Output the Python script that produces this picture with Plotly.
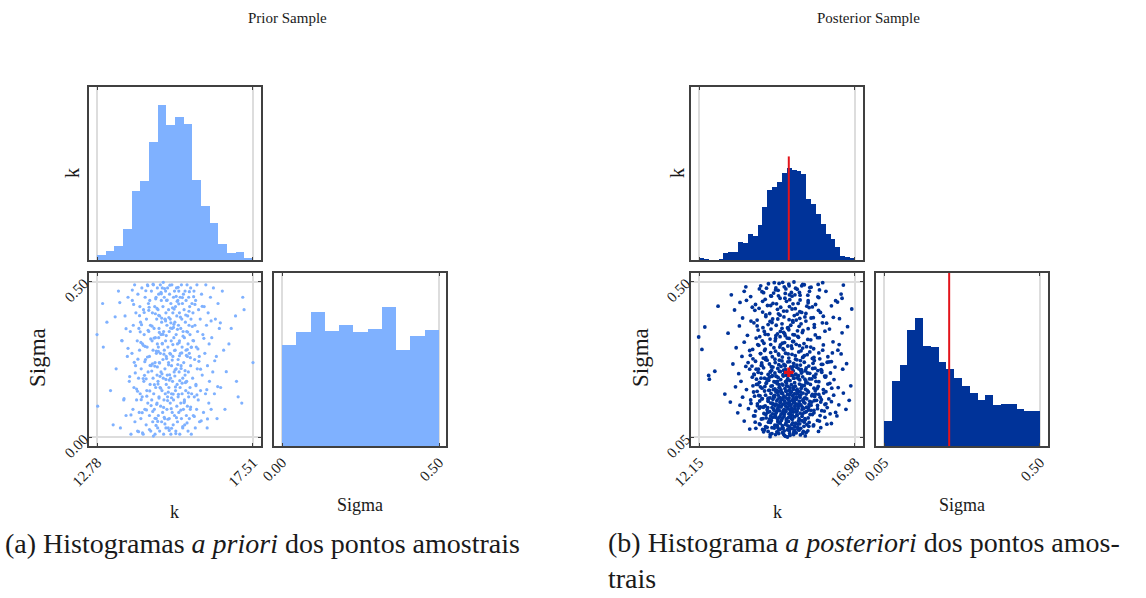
import numpy as np
import plotly.graph_objects as go

W, H = 1146, 598

# ---------------- data ----------------
PRIOR_K_RANGE = [12.78, 17.51]
PRIOR_SIGMA_RANGE = [0.00, 0.50]
POST_K_RANGE = [12.15, 16.98]
POST_SIGMA_RANGE = [0.05, 0.50]

PRIOR_K_TICKS = ["12.78", "17.51"]
PRIOR_SIGMA_TICKS = ["0.00", "0.50"]
POST_K_TICKS = ["12.15", "16.98"]
POST_SIGMA_TICKS = ["0.05", "0.50"]

PRIOR_K_COUNTS = [5, 8, 13, 28, 63, 72, 107, 141, 123, 130, 124, 73, 49, 34, 15, 6, 7, 2]
PRIOR_SIGMA_COUNTS = [79, 89, 105, 90, 95, 89, 92, 109, 75, 86, 91]
POST_K_COUNTS = [4, 1, 0, 0, 2, 24, 28, 28, 63, 60, 92, 86, 125, 187, 248, 257, 278, 308,
                 325, 319, 314, 305, 216, 198, 163, 128, 92, 74, 45, 15, 9, 5]
POST_SIGMA_COUNTS = [78, 204, 252, 361, 398, 312, 307, 263, 240, 211, 188, 164, 143, 159,
                     127, 131, 130, 114, 110, 109]

POST_K_BEST = 14.93
POST_SIGMA_BEST = 0.238
POST_K_LINE_TOP = 367

PRIOR_POINTS = [
    (12.78, 0.33), (12.80, 0.10), (12.95, 0.43), (12.97, 0.29),
    (13.19, 0.15), (13.08, 0.37), (13.27, 0.04),
    (13.36, 0.22), (13.43, 0.47), (13.49, 0.03), (13.54, 0.31),
    (13.59, 0.12), (13.63, 0.39), (13.66, 0.07), (13.70, 0.26), (13.72, 0.45), (13.76, 0.18),
    (13.79, 0.34), (13.81, 0.01),
    (13.84, 0.27), (13.85, 0.44), (13.87, 0.09), (13.88, 0.36), (13.90, 0.16), (13.92, 0.49),
    (13.93, 0.05), (13.95, 0.23), (13.96, 0.40), (13.98, 0.12), (14.00, 0.31), (14.01, 0.02),
    (14.02, 0.46), (14.04, 0.19), (14.05, 0.35), (14.06, 0.08), (14.07, 0.28), (14.08, 0.42),
    (14.09, 0.14),
    (14.10, 0.37), (14.11, 0.06), (14.12, 0.22), (14.14, 0.48), (14.15, 0.13), (14.16, 0.30),
    (14.18, 0.01), (14.19, 0.41), (14.20, 0.18), (14.21, 0.33), (14.23, 0.09), (14.24, 0.45),
    (14.25, 0.25), (14.27, 0.04), (14.28, 0.38), (14.29, 0.15), (14.30, 0.29), (14.31, 0.49),
    (14.32, 0.11), (14.33, 0.21), (14.34, 0.43), (14.35, 0.34),
    (14.37, 0.07), (14.37, 0.26), (14.38, 0.44), (14.39, 0.17), (14.40, 0.36), (14.41, 0.02),
    (14.42, 0.23), (14.43, 0.47), (14.44, 0.12), (14.45, 0.31), (14.46, 0.40), (14.47, 0.05),
    (14.48, 0.19), (14.48, 0.28), (14.49, 0.49), (14.50, 0.14), (14.51, 0.35), (14.52, 0.09),
    (14.53, 0.42), (14.54, 0.24), (14.54, 0.01), (14.55, 0.32), (14.56, 0.16), (14.57, 0.45),
    (14.58, 0.27), (14.58, 0.06), (14.59, 0.38), (14.60, 0.20), (14.60, 0.11), (14.61, 0.48),
    (14.61, 0.30), (14.62, 0.03),
    (14.63, 0.41), (14.63, 0.18), (14.64, 0.29), (14.64, 0.07), (14.65, 0.46), (14.66, 0.13),
    (14.66, 0.35), (14.67, 0.24), (14.68, 0.02), (14.68, 0.39), (14.69, 0.16), (14.70, 0.49),
    (14.70, 0.27), (14.71, 0.10), (14.72, 0.33), (14.72, 0.21), (14.73, 0.44), (14.74, 0.05),
    (14.74, 0.37), (14.75, 0.15), (14.76, 0.30), (14.76, 0.48), (14.77, 0.08), (14.78, 0.25),
    (14.78, 0.42), (14.79, 0.19), (14.80, 0.01), (14.80, 0.34), (14.81, 0.12), (14.82, 0.45),
    (14.82, 0.28), (14.83, 0.06), (14.84, 0.38), (14.84, 0.22), (14.85, 0.14), (14.86, 0.47),
    (14.86, 0.31), (14.87, 0.03), (14.87, 0.40), (14.88, 0.17), (14.88, 0.26), (14.65, 0.32),
    (14.89, 0.44), (14.90, 0.09), (14.90, 0.36), (14.91, 0.20), (14.92, 0.48), (14.92, 0.13),
    (14.93, 0.29), (14.94, 0.03), (14.95, 0.41), (14.95, 0.24), (14.96, 0.16), (14.97, 0.34),
    (14.97, 0.06), (14.98, 0.46), (14.99, 0.27), (15.00, 0.11), (15.00, 0.38), (15.01, 0.19),
    (15.02, 0.01), (15.02, 0.43), (15.03, 0.31), (15.04, 0.14), (15.04, 0.23), (15.05, 0.49),
    (15.06, 0.08), (15.06, 0.35), (15.07, 0.18), (15.08, 0.40), (15.08, 0.26), (15.09, 0.04),
    (15.10, 0.45), (15.10, 0.12), (15.11, 0.32), (15.12, 0.21), (15.13, 0.47), (15.13, 0.07),
    (15.14, 0.37),
    (15.15, 0.28), (15.16, 0.15), (15.16, 0.42), (15.17, 0.02), (15.18, 0.33), (15.18, 0.22),
    (15.19, 0.48), (15.20, 0.10), (15.20, 0.39), (15.21, 0.17), (15.22, 0.30), (15.22, 0.05),
    (15.23, 0.44), (15.24, 0.25), (15.24, 0.13), (15.25, 0.36), (15.26, 0.47), (15.26, 0.08),
    (15.27, 0.21), (15.28, 0.40), (15.28, 0.31), (15.29, 0.01), (15.30, 0.16), (15.30, 0.45),
    (15.31, 0.27), (15.32, 0.11), (15.32, 0.35), (15.33, 0.23), (15.34, 0.49), (15.34, 0.06),
    (15.35, 0.38), (15.36, 0.14), (15.36, 0.29), (15.37, 0.43), (15.38, 0.03), (15.38, 0.19),
    (15.39, 0.34), (15.40, 0.09), (15.40, 0.46),
    (15.41, 0.24), (15.42, 0.41), (15.43, 0.12), (15.43, 0.32), (15.44, 0.04), (15.45, 0.47),
    (15.45, 0.20), (15.46, 0.37), (15.47, 0.15), (15.48, 0.28), (15.48, 0.44), (15.49, 0.07),
    (15.50, 0.34), (15.50, 0.18), (15.51, 0.49), (15.52, 0.26), (15.52, 0.10), (15.53, 0.39),
    (15.54, 0.02), (15.54, 0.30), (15.55, 0.21), (15.56, 0.45), (15.56, 0.13), (15.57, 0.36),
    (15.58, 0.06), (15.58, 0.27), (15.59, 0.42), (15.60, 0.16), (15.60, 0.33), (15.61, 0.09),
    (15.62, 0.48), (15.62, 0.23), (15.63, 0.38), (15.64, 0.01), (15.64, 0.29), (15.65, 0.14),
    (15.66, 0.43),
    (15.68, 0.19), (15.69, 0.40), (15.70, 0.07), (15.71, 0.31), (15.72, 0.47), (15.73, 0.13),
    (15.74, 0.25), (15.75, 0.36), (15.76, 0.03), (15.77, 0.44), (15.78, 0.17), (15.79, 0.29),
    (15.80, 0.09), (15.81, 0.49), (15.82, 0.22), (15.83, 0.34), (15.85, 0.12), (15.86, 0.41),
    (15.88, 0.26), (15.89, 0.05), (15.91, 0.38), (15.92, 0.15),
    (15.95, 0.46), (15.97, 0.20), (15.99, 0.33), (16.01, 0.08), (16.03, 0.42), (16.05, 0.27),
    (16.07, 0.14), (16.08, 0.49), (16.10, 0.36), (16.12, 0.03), (16.13, 0.23), (16.15, 0.40),
    (16.17, 0.11), (16.18, 0.30), (16.19, 0.18),
    (16.22, 0.45), (16.24, 0.09), (16.26, 0.32), (16.29, 0.21), (16.31, 0.48), (16.34, 0.14),
    (16.37, 0.38), (16.40, 0.26), (16.42, 0.06), (16.45, 0.43),
    (16.49, 0.35), (16.53, 0.16), (16.58, 0.47), (16.62, 0.28), (16.66, 0.09),
    (16.78, 0.30), (16.85, 0.35), (16.98, 0.39),
    (17.20, 0.45), (17.24, 0.41), (17.01, 0.18), (17.06, 0.13), (17.17, 0.11),
    (17.51, 0.24),
]

PRIOR_POINTS_EXTRA = [
    (14.47, 0.083), (15.12, 0.412), (14.81, 0.267), (13.98, 0.155), (15.53, 0.338), (14.26, 0.471),
    (15.04, 0.029), (14.69, 0.196), (15.87, 0.244), (14.13, 0.362), (14.92, 0.118), (15.33, 0.221),
    (14.55, 0.397), (13.72, 0.286), (15.19, 0.063), (14.38, 0.149), (15.71, 0.452), (14.77, 0.332),
    (15.46, 0.176), (14.04, 0.018), (14.99, 0.489), (14.62, 0.051), (15.27, 0.304), (13.89, 0.427),
    (15.62, 0.097), (14.31, 0.258), (14.86, 0.374), (15.09, 0.139), (14.44, 0.213), (16.02, 0.318),
    (14.73, 0.461), (15.38, 0.034), (14.18, 0.189), (15.01, 0.351), (14.58, 0.277), (15.78, 0.166),
    (14.95, 0.233), (14.35, 0.408), (15.24, 0.482), (13.81, 0.072), (15.14, 0.197), (14.66, 0.126),
    (15.49, 0.263), (14.09, 0.339), (14.84, 0.043), (15.31, 0.386), (14.52, 0.169), (15.97, 0.421),
    (14.24, 0.292), (15.06, 0.248), (14.79, 0.498), (15.42, 0.111), (14.41, 0.316), (14.97, 0.184),
    (15.67, 0.356), (14.15, 0.079), (15.21, 0.437), (14.61, 0.226), (13.94, 0.207), (15.35, 0.271),
    (14.88, 0.327), (14.49, 0.004), (15.16, 0.162), (15.58, 0.468), (14.29, 0.132), (14.74, 0.383),
    (15.03, 0.092), (13.66, 0.349), (15.45, 0.214), (14.56, 0.445), (14.93, 0.058), (15.29, 0.182),
    (14.21, 0.401), (15.84, 0.284), (14.68, 0.239), (15.11, 0.363), (14.37, 0.025), (15.55, 0.143),
    (14.83, 0.478), (14.02, 0.251), (15.39, 0.325), (14.59, 0.106), (15.07, 0.416), (14.27, 0.188),
    (15.73, 0.067), (14.76, 0.302), (15.23, 0.234), (14.45, 0.357), (16.11, 0.153), (14.91, 0.441),
    (14.12, 0.121), (15.47, 0.393), (14.64, 0.276), (15.17, 0.012), (14.33, 0.344), (14.98, 0.201),
    (15.61, 0.256), (14.71, 0.158), (13.85, 0.473), (15.32, 0.087), (14.53, 0.229), (15.02, 0.368),
    (14.19, 0.295), (15.51, 0.046), (14.87, 0.186), (15.26, 0.429), (14.42, 0.102), (15.92, 0.219),
    (14.67, 0.337), (15.13, 0.279), (14.07, 0.391), (14.82, 0.064), (15.36, 0.174), (14.48, 0.492),
    (15.69, 0.311), (14.94, 0.145), (14.23, 0.243), (15.18, 0.453), (14.57, 0.038), (16.24, 0.374),
    (14.75, 0.204), (15.43, 0.115), (14.36, 0.418), (15.08, 0.298), (14.63, 0.171), (15.81, 0.136),
    (14.96, 0.385), (14.16, 0.014), (15.28, 0.262), (14.51, 0.319), (13.77, 0.195), (15.57, 0.405),
    (14.89, 0.253), (14.28, 0.088), (15.22, 0.347), (14.72, 0.466), (15.04, 0.127), (14.39, 0.231),
    (15.64, 0.289), (14.85, 0.379), (14.01, 0.148), (15.37, 0.449), (14.54, 0.061), (15.15, 0.217),
    (14.78, 0.331), (15.94, 0.053), (14.32, 0.487), (15.01, 0.267), (14.65, 0.392), (15.48, 0.178),
    (14.11, 0.305), (14.97, 0.022), (15.25, 0.138), (14.46, 0.236), (15.75, 0.427), (14.80, 0.096),
    (15.10, 0.353), (14.22, 0.199), (15.52, 0.282), (14.60, 0.414), (16.35, 0.246), (13.60, 0.124),
    (16.52, 0.368), (13.47, 0.433), (16.13, 0.059), (13.91, 0.241), (16.44, 0.163), (13.53, 0.311),
    (16.70, 0.211), (13.33, 0.387),
]

POST_K_ROWS = [
    [14.35, 14.62, 14.80, 14.95, 15.08, 15.25, 15.47, 14.15],
    [13.72, 14.02, 14.21, 14.36, 14.48, 14.57, 14.66, 14.74, 14.83, 14.90, 14.97, 15.05, 15.12,
     15.21, 15.30, 15.41, 15.55, 15.70, 15.92, 16.25],
    [13.55, 13.88, 14.08, 14.22, 14.33, 14.43, 14.51, 14.59, 14.66, 14.73, 14.79, 14.86, 14.92,
     14.98, 15.04, 15.11, 15.18, 15.26, 15.34, 15.43, 15.53, 15.66, 15.82, 16.05, 16.42],
    [13.35, 13.68, 13.90, 14.05, 14.16, 14.26, 14.34, 14.41, 14.47, 14.53, 14.59, 14.64, 14.69,
     14.74, 14.79, 14.84, 14.89, 14.93, 14.97, 15.02, 15.07, 15.12, 15.17, 15.22, 15.28, 15.34,
     15.40, 15.47, 15.54, 15.62, 15.71, 15.82, 15.95, 16.12, 16.38, 16.70],
    [13.12, 13.42, 13.75, 13.96, 14.10, 14.20, 14.29, 14.37, 14.44, 14.50, 14.56, 14.61, 14.66,
     14.71, 14.75, 14.80, 14.84, 14.88, 14.92, 14.96, 15.00, 15.04, 15.08, 15.12, 15.17, 15.21,
     15.26, 15.31, 15.37, 15.43, 15.49, 15.56, 15.64, 15.72, 15.82, 15.94, 16.08, 16.25, 16.48,
     16.80],
    [12.95, 13.50, 13.84, 14.04, 14.18, 14.29, 14.38, 14.46, 14.53, 14.60, 14.66, 14.72, 14.78,
     14.84, 14.89, 14.94, 14.99, 15.05, 15.11, 15.17, 15.23, 15.30, 15.37, 15.45, 15.54, 15.64,
     15.76, 15.90, 16.08, 16.32, 16.62],
    [13.28, 13.62, 13.93, 14.10, 14.23, 14.33, 14.42, 14.50, 14.57, 14.63, 14.69, 14.75, 14.81,
     14.86, 14.91, 14.96, 15.01, 15.07, 15.13, 15.19, 15.26, 15.33, 15.41, 15.50, 15.60, 15.71,
     15.84, 16.00, 16.20, 16.46, 16.85],
    [12.45, 12.47, 13.45, 13.80, 14.02, 14.18, 14.31, 14.42, 14.51, 14.60, 14.68, 14.76, 14.83,
     14.90, 14.97, 15.04, 15.11, 15.19, 15.27, 15.36, 15.46, 15.57, 15.70, 15.86, 16.06, 16.33],
    [12.64, 13.38, 13.72, 13.98, 14.15, 14.29, 14.40, 14.50, 14.59, 14.67, 14.75, 14.83, 14.91,
     14.99, 15.07, 15.15, 15.24, 15.34, 15.45, 15.58, 15.74, 15.95, 16.22, 16.60],
    [13.20, 13.60, 13.90, 14.10, 14.26, 14.39, 14.51, 14.62, 14.72, 14.81, 14.90, 14.99, 15.08,
     15.18, 15.29, 15.41, 15.55, 15.72, 15.94, 16.25, 16.72],
    [13.48, 13.82, 14.05, 14.22, 14.37, 14.50, 14.62, 14.73, 14.83, 14.93, 15.03, 15.13, 15.24,
     15.36, 15.50, 15.66, 15.86, 16.14, 16.55],
    [12.24, 13.30, 13.72, 14.00, 14.20, 14.37, 14.52, 14.65, 14.78, 14.90, 15.03, 15.16, 15.31,
     15.48, 15.70, 16.00, 16.45],
    [12.14, 13.55, 13.92, 14.16, 14.35, 14.51, 14.66, 14.80, 14.94, 15.08, 15.23, 15.40, 15.61,
     15.88, 16.30],
    [13.05, 13.65, 13.98, 14.20, 14.38, 14.53, 14.67, 14.80, 14.93, 15.06, 15.20, 15.35, 15.53,
     15.75, 16.05, 16.58],
    [12.33, 13.40, 13.85, 14.13, 14.35, 14.54, 14.72, 14.89, 15.06, 15.25, 15.46, 15.72, 16.10,
     16.75],
    [13.50, 13.95, 14.22, 14.43, 14.61, 14.78, 14.94, 15.10, 15.27, 15.46, 15.69, 16.00, 16.50],
    [12.74, 13.25, 13.80, 14.12, 14.37, 14.58, 14.77, 14.95, 15.13, 15.33, 15.56, 15.85, 16.25,
     16.88],
    [13.42, 13.90, 14.20, 14.44, 14.66, 14.86, 15.06, 15.28, 15.53, 15.86, 16.38],
    [13.15, 13.75, 14.10, 14.37, 14.60, 14.82, 15.03, 15.26, 15.52, 15.88, 16.55],
    [13.60, 14.02, 14.30, 14.53, 14.74, 14.94, 15.14, 15.36, 15.62, 15.98, 16.62],
]

POST_SIGMA_ROWS = [
    [0.052, 0.061, 0.055, 0.068, 0.058, 0.071, 0.064, 0.066],
    [0.074, 0.089, 0.081, 0.093, 0.077, 0.085, 0.091, 0.079, 0.087, 0.083, 0.075, 0.092, 0.080,
     0.088, 0.076, 0.094, 0.082, 0.086, 0.078, 0.090],
    [0.097, 0.112, 0.103, 0.116, 0.099, 0.108, 0.114, 0.101, 0.110, 0.105, 0.117, 0.098, 0.107,
     0.113, 0.102, 0.109, 0.115, 0.100, 0.111, 0.104, 0.106, 0.116, 0.099, 0.108, 0.112],
    [0.121, 0.133, 0.126, 0.138, 0.119, 0.130, 0.124, 0.136, 0.128, 0.120, 0.134, 0.127, 0.139,
     0.122, 0.131, 0.125, 0.137, 0.118, 0.129, 0.135, 0.123, 0.132, 0.126, 0.139, 0.120, 0.130,
     0.134, 0.124, 0.137, 0.128, 0.121, 0.133, 0.127, 0.136, 0.122, 0.131],
    [0.152, 0.143, 0.158, 0.147, 0.161, 0.141, 0.154, 0.149, 0.160, 0.145, 0.156, 0.142, 0.151,
     0.159, 0.146, 0.155, 0.140, 0.162, 0.148, 0.153, 0.144, 0.157, 0.150, 0.141, 0.160, 0.146,
     0.154, 0.143, 0.158, 0.149, 0.161, 0.145, 0.152, 0.156, 0.142, 0.159, 0.147, 0.153, 0.144,
     0.157],
    [0.175, 0.166, 0.181, 0.170, 0.184, 0.163, 0.177, 0.168, 0.182, 0.172, 0.165, 0.179, 0.169,
     0.184, 0.174, 0.164, 0.180, 0.171, 0.176, 0.167, 0.183, 0.173, 0.178, 0.164, 0.181, 0.170,
     0.175, 0.166, 0.182, 0.172, 0.178],
    [0.196, 0.188, 0.203, 0.192, 0.206, 0.186, 0.199, 0.190, 0.205, 0.194, 0.187, 0.201, 0.191,
     0.207, 0.197, 0.185, 0.202, 0.193, 0.198, 0.189, 0.204, 0.195, 0.200, 0.186, 0.203, 0.192,
     0.197, 0.188, 0.206, 0.194, 0.199],
    [0.229, 0.218, 0.212, 0.224, 0.209, 0.221, 0.215, 0.228, 0.210, 0.223, 0.217, 0.227, 0.211,
     0.220, 0.214, 0.229, 0.208, 0.222, 0.216, 0.225, 0.213, 0.219, 0.227, 0.211, 0.224, 0.217],
    [0.241, 0.234, 0.247, 0.238, 0.251, 0.232, 0.244, 0.236, 0.249, 0.240, 0.231, 0.246, 0.237,
     0.252, 0.242, 0.233, 0.248, 0.239, 0.245, 0.235, 0.250, 0.243, 0.236, 0.247],
    [0.262, 0.255, 0.270, 0.258, 0.273, 0.254, 0.266, 0.260, 0.271, 0.257, 0.268, 0.253, 0.264,
     0.274, 0.259, 0.267, 0.256, 0.272, 0.261, 0.269, 0.263],
    [0.284, 0.277, 0.292, 0.280, 0.295, 0.276, 0.288, 0.282, 0.293, 0.279, 0.290, 0.286, 0.297,
     0.281, 0.289, 0.278, 0.294, 0.283, 0.291],
    [0.304, 0.309, 0.301, 0.316, 0.305, 0.318, 0.299, 0.311, 0.303, 0.314, 0.307, 0.319, 0.300,
     0.312, 0.306, 0.317, 0.302],
    [0.340, 0.325, 0.337, 0.322, 0.334, 0.329, 0.341, 0.324, 0.336, 0.327, 0.339, 0.321, 0.332,
     0.338, 0.326],
    [0.351, 0.345, 0.360, 0.348, 0.363, 0.344, 0.356, 0.350, 0.361, 0.347, 0.358, 0.353, 0.364,
     0.346, 0.357, 0.352],
    [0.369, 0.372, 0.381, 0.367, 0.385, 0.374, 0.378, 0.366, 0.383, 0.371, 0.386, 0.376, 0.380,
     0.370],
    [0.395, 0.389, 0.404, 0.392, 0.407, 0.398, 0.390, 0.402, 0.394, 0.408, 0.396, 0.400, 0.393],
    [0.429, 0.418, 0.426, 0.412, 0.431, 0.420, 0.415, 0.428, 0.422, 0.411, 0.425, 0.417, 0.430,
     0.421],
    [0.440, 0.434, 0.449, 0.437, 0.452, 0.443, 0.436, 0.447, 0.439, 0.454, 0.445],
    [0.462, 0.457, 0.471, 0.459, 0.475, 0.466, 0.458, 0.469, 0.461, 0.476, 0.464],
    [0.485, 0.479, 0.494, 0.482, 0.498, 0.488, 0.481, 0.492, 0.484, 0.497, 0.490],
]

POST_POINTS_EXTRA = [
    (14.71, 0.142), (15.23, 0.097), (14.45, 0.188), (14.98, 0.121), (15.41, 0.163), (14.26, 0.079),
    (14.87, 0.214), (15.09, 0.068), (14.58, 0.131), (15.32, 0.246), (14.93, 0.157), (14.37, 0.112),
    (15.17, 0.186), (14.66, 0.093), (15.54, 0.129), (14.81, 0.238), (15.02, 0.104), (14.49, 0.171),
    (15.28, 0.145), (14.19, 0.197), (15.11, 0.083), (14.74, 0.176), (15.46, 0.208), (14.56, 0.066),
    (14.91, 0.133), (15.36, 0.118), (14.33, 0.224), (15.05, 0.159), (14.63, 0.202), (15.21, 0.074),
    (14.84, 0.091), (14.42, 0.149), (15.14, 0.231), (14.69, 0.117), (15.49, 0.087), (14.97, 0.193),
    (14.28, 0.136), (15.26, 0.169), (14.77, 0.059), (15.07, 0.255), (14.52, 0.108), (15.39, 0.152),
    (14.89, 0.072), (14.61, 0.183), (15.19, 0.126), (14.35, 0.164), (15.01, 0.229), (14.79, 0.147),
    (15.44, 0.101), (14.47, 0.211), (15.12, 0.139), (14.73, 0.084), (15.31, 0.191), (14.55, 0.124),
    (14.95, 0.173), (15.58, 0.154), (14.23, 0.106), (14.86, 0.199), (15.16, 0.063), (14.64, 0.241),
    (15.04, 0.114), (14.41, 0.078), (15.35, 0.137), (14.82, 0.166), (15.24, 0.219), (14.59, 0.095),
    (14.99, 0.144), (14.31, 0.186), (15.47, 0.175), (14.76, 0.128), (15.09, 0.196), (14.51, 0.141),
    (15.27, 0.089), (14.88, 0.234), (14.67, 0.153), (15.52, 0.207), (14.39, 0.099), (15.13, 0.162),
    (14.94, 0.081), (14.57, 0.179), (15.38, 0.067), (14.83, 0.127), (15.03, 0.248), (14.29, 0.158),
    (15.19, 0.113), (14.72, 0.204), (15.62, 0.143), (14.46, 0.132), (14.92, 0.096), (15.29, 0.181),
    (14.62, 0.071), (15.06, 0.168), (14.36, 0.239), (15.42, 0.122), (14.78, 0.111), (15.15, 0.147),
    (14.53, 0.227), (14.96, 0.061), (15.33, 0.201), (14.68, 0.138), (14.21, 0.172), (15.22, 0.134),
    (14.85, 0.183), (15.56, 0.093), (14.43, 0.118), (15.08, 0.221), (14.75, 0.076), (15.45, 0.189),
    (14.97, 0.109), (14.60, 0.161), (15.18, 0.252), (14.34, 0.103), (15.01, 0.181), (14.80, 0.121),
    (15.37, 0.157), (14.50, 0.085), (14.90, 0.216), (15.25, 0.104), (14.65, 0.194), (15.11, 0.066),
    (14.44, 0.145), (15.51, 0.236), (14.87, 0.149), (14.27, 0.122), (15.20, 0.177), (14.70, 0.099),
    (15.05, 0.131), (14.58, 0.212), (15.40, 0.082), (14.93, 0.185), (14.16, 0.139), (15.66, 0.174),
    (14.82, 0.257), (15.14, 0.091), (14.48, 0.166), (14.99, 0.125), (15.30, 0.243), (14.62, 0.107),
    (15.07, 0.189), (14.38, 0.198), (15.59, 0.116), (14.74, 0.163), (15.23, 0.072), (14.54, 0.146),
    (14.91, 0.231), (15.34, 0.098), (14.24, 0.208), (15.10, 0.153), (14.69, 0.178), (15.48, 0.137),
    (14.85, 0.103), (14.40, 0.226), (15.16, 0.123), (14.77, 0.244), (15.02, 0.087), (14.56, 0.186),
    (15.28, 0.165), (14.95, 0.142), (14.30, 0.094), (15.43, 0.218),
    (13.86, 0.231), (16.12, 0.267), (14.18, 0.301), (15.74, 0.224), (14.52, 0.336), (15.37, 0.282),
    (13.97, 0.318), (15.93, 0.246), (14.64, 0.273), (15.21, 0.342), (14.08, 0.258), (15.61, 0.311),
    (14.86, 0.229), (16.28, 0.294), (14.33, 0.262), (15.05, 0.327), (13.74, 0.287), (15.47, 0.251),
    (14.75, 0.306), (15.82, 0.338), (14.25, 0.218), (15.14, 0.276), (14.58, 0.349), (16.04, 0.227),
    (14.91, 0.291), (15.32, 0.236), (14.11, 0.329), (15.68, 0.264), (14.42, 0.283), (15.26, 0.315),
    (13.92, 0.247), (15.98, 0.302), (14.69, 0.255), (15.52, 0.333), (14.21, 0.275), (15.09, 0.221),
    (14.82, 0.344), (16.18, 0.268), (14.47, 0.309), (15.41, 0.286), (14.03, 0.341), (15.77, 0.233),
    (14.96, 0.269), (14.36, 0.239), (15.58, 0.297), (14.73, 0.322), (15.18, 0.259), (13.81, 0.304),
    (15.89, 0.277), (14.55, 0.226), (15.01, 0.314), (14.29, 0.347), (15.44, 0.242), (14.61, 0.291),
    (16.36, 0.253), (14.88, 0.337), (15.29, 0.272), (14.14, 0.279), (15.64, 0.219), (14.78, 0.261),
    (13.67, 0.266), (16.49, 0.318), (14.44, 0.253), (15.11, 0.346), (14.99, 0.235), (15.36, 0.308),
    (14.06, 0.292), (15.71, 0.281), (14.67, 0.317), (15.23, 0.228),
    (14.41, 0.382), (15.28, 0.461), (13.88, 0.417), (15.72, 0.368), (14.93, 0.493), (14.17, 0.356),
    (15.49, 0.429), (14.66, 0.403), (16.08, 0.472), (14.99, 0.374), (13.62, 0.446), (15.16, 0.389),
    (14.52, 0.476), (15.91, 0.411), (14.27, 0.431), (15.37, 0.359), (14.81, 0.452), (16.31, 0.397),
    (14.06, 0.488), (15.03, 0.421), (14.72, 0.365), (15.58, 0.483), (14.34, 0.408), (15.22, 0.437),
    (13.95, 0.372), (15.83, 0.456), (14.59, 0.392), (15.09, 0.499), (14.87, 0.415), (16.19, 0.363),
    (14.12, 0.443), (15.43, 0.398), (14.46, 0.467), (15.66, 0.427), (13.76, 0.386), (14.96, 0.448),
    (15.31, 0.378), (14.63, 0.495), (16.44, 0.441), (14.22, 0.399), (15.12, 0.462), (14.77, 0.353),
    (15.53, 0.445), (14.01, 0.423), (15.97, 0.381), (14.39, 0.458), (15.19, 0.406), (14.91, 0.367),
    (13.55, 0.472), (15.76, 0.434), (14.68, 0.426), (15.41, 0.491), (14.29, 0.376), (15.05, 0.387),
    (16.58, 0.452), (14.84, 0.479), (15.27, 0.413), (14.15, 0.468), (15.62, 0.395), (14.55, 0.436),
    (14.52, 0.058), (15.11, 0.071), (14.83, 0.053), (14.29, 0.067), (15.36, 0.062), (14.67, 0.074),
    (14.97, 0.056), (15.21, 0.079), (14.41, 0.061), (15.52, 0.069), (14.74, 0.064), (15.03, 0.076),
    (14.18, 0.072), (14.89, 0.051), (15.29, 0.057), (14.59, 0.078), (15.44, 0.054), (14.36, 0.059),
    (15.08, 0.063), (14.79, 0.069),
    (13.84, 0.112), (16.05, 0.145), (13.95, 0.183), (15.88, 0.097), (14.07, 0.221), (15.73, 0.168),
    (13.79, 0.256), (16.14, 0.204), (14.02, 0.134), (15.95, 0.238), (13.91, 0.076), (15.81, 0.191),
    (14.11, 0.162), (16.21, 0.118), (13.99, 0.247), (15.69, 0.083), (14.05, 0.196), (15.92, 0.152),
    (13.87, 0.169), (16.08, 0.227), (14.13, 0.104), (15.77, 0.212), (13.96, 0.141), (15.85, 0.067),
    (14.09, 0.265), (16.01, 0.178), (13.82, 0.199), (15.71, 0.128), (14.04, 0.087), (15.98, 0.261),
    (13.93, 0.218), (16.17, 0.161), (14.14, 0.137), (15.83, 0.243), (13.76, 0.148), (15.90, 0.113),
    (14.00, 0.171), (16.26, 0.192), (13.89, 0.094), (15.75, 0.185), (14.08, 0.235), (16.03, 0.126),
    (13.97, 0.203), (15.67, 0.249), (14.12, 0.073), (15.86, 0.174), (13.85, 0.233), (16.11, 0.088),
    (14.03, 0.155), (15.79, 0.157),
    (14.48, 0.497), (15.33, 0.488), (14.79, 0.485), (15.57, 0.472), (14.24, 0.481), (15.01, 0.469),
    (15.84, 0.492), (14.61, 0.459), (15.19, 0.478), (14.95, 0.462),
]

CAPTION_A = "(a) Histogramas <i>a priori</i> dos pontos amostrais"
CAPTION_B = "(b) Histograma <i>a posteriori</i> dos pontos amos-<br>trais"

# ---------------- styling ----------------
FONT = "Liberation Serif, DejaVu Serif, serif"
PRIOR_COLOR = "#7fb1ff"
POST_COLOR = "#003399"
RED = "#e3141b"
FRAME = "#404040"
GRID = "#dddddd"

# axis boxes in pixels: (left, right, top, bottom)
BOXES = {
    1: (89, 261, 87, 260),
    2: (89, 261, 273, 446),
    3: (274, 446, 273, 446),
    4: (691, 863, 87, 260),
    5: (691, 863, 273, 446),
    6: (876, 1048, 273, 446),
}
RANGES_X = {
    1: [12.537, 17.753], 2: [12.537, 17.753], 3: [-0.0255, 0.5223],
    4: [11.902, 17.228], 5: [11.902, 17.228], 6: [0.0269, 0.5231],
}
RANGES_Y = {
    1: [0, 157.4], 2: [-0.028, 0.528], 3: [0, 135.6],
    4: [0, 613], 5: [0.025, 0.525], 6: [0, 539],
}


def dom(i):
    l, r, t, b = BOXES[i]
    return [l / W, r / W], [1 - b / H, 1 - t / H]


def bars(rng, counts):
    edges = np.linspace(rng[0], rng[1], len(counts) + 1)
    centers = (edges[:-1] + edges[1:]) / 2
    return centers, edges[1] - edges[0]


fig = go.Figure()


def add_hist(i, rng, counts, color):
    c, w = bars(rng, counts)
    fig.add_trace(go.Bar(x=c, y=counts, width=w, marker=dict(color=color, line_width=0),
                         xaxis=f"x{i}", yaxis=f"y{i}", hoverinfo="skip"))


add_hist(1, PRIOR_K_RANGE, PRIOR_K_COUNTS, PRIOR_COLOR)
add_hist(3, PRIOR_SIGMA_RANGE, PRIOR_SIGMA_COUNTS, PRIOR_COLOR)
add_hist(4, POST_K_RANGE, POST_K_COUNTS, POST_COLOR)
add_hist(6, POST_SIGMA_RANGE, POST_SIGMA_COUNTS, POST_COLOR)

prior_all = PRIOR_POINTS + PRIOR_POINTS_EXTRA
pk = [p[0] for p in prior_all]
ps = [p[1] for p in prior_all]
fig.add_trace(go.Scatter(x=pk, y=ps, mode="markers", xaxis="x2", yaxis="y2",
                         marker=dict(color=PRIOR_COLOR, size=3.2, line_width=0)))

qk, qs = [], []
for kr, sr in zip(POST_K_ROWS, POST_SIGMA_ROWS):
    for a, b in zip(kr, sr):
        qk.append(a)
        qs.append(b)
for a, b in POST_POINTS_EXTRA:
    qk.append(a)
    qs.append(b)
fig.add_trace(go.Scatter(x=qk, y=qs, mode="markers", xaxis="x5", yaxis="y5",
                         marker=dict(color=POST_COLOR, size=3.8, line_width=0)))

# best-fit markers
fig.add_trace(go.Scatter(x=[POST_K_BEST, POST_K_BEST], y=[0, POST_K_LINE_TOP], mode="lines",
                         line=dict(color=RED, width=2), xaxis="x4", yaxis="y4"))
fig.add_trace(go.Scatter(x=[POST_SIGMA_BEST, POST_SIGMA_BEST], y=[0, RANGES_Y[6][1]],
                         mode="lines", line=dict(color=RED, width=2), xaxis="x6", yaxis="y6"))
fig.add_trace(go.Scatter(x=[POST_K_BEST], y=[POST_SIGMA_BEST], mode="markers",
                         marker=dict(symbol="cross", size=8, color=RED, line_width=0),
                         xaxis="x5", yaxis="y5"))

tickfont = dict(family=FONT, size=15, color="#1a1a1a")
base = dict(showline=True, linecolor=FRAME, linewidth=2, zeroline=False, automargin=False,
            ticks="inside", ticklen=3, tickcolor=FRAME, tickwidth=1, gridcolor=GRID,
            gridwidth=1.5, tickfont=tickfont, fixedrange=True)

tick_specs = {
    1: (PRIOR_K_RANGE, PRIOR_K_TICKS, None, None),
    2: (PRIOR_K_RANGE, PRIOR_K_TICKS, PRIOR_SIGMA_RANGE, PRIOR_SIGMA_TICKS),
    3: (PRIOR_SIGMA_RANGE, PRIOR_SIGMA_TICKS, None, None),
    4: (POST_K_RANGE, POST_K_TICKS, None, None),
    5: (POST_K_RANGE, POST_K_TICKS, POST_SIGMA_RANGE, POST_SIGMA_TICKS),
    6: (POST_SIGMA_RANGE, POST_SIGMA_TICKS, None, None),
}
layout_axes = {}
for i in range(1, 7):
    dx, dy = dom(i)
    xv, xt, yv, yt = tick_specs[i]
    showxlabels = i in (2, 3, 5, 6)
    xa = dict(base, domain=dx, range=RANGES_X[i], anchor=f"y{i}", tickvals=xv, ticktext=xt,
              showticklabels=showxlabels, tickangle=-45, mirror="ticks", showgrid=True)
    if yv is None:
        ya = dict(base, domain=dy, range=RANGES_Y[i], anchor=f"x{i}", showticklabels=False,
                  ticks="", showgrid=False, mirror=True)
    else:
        ya = dict(base, domain=dy, range=RANGES_Y[i], anchor=f"x{i}", tickvals=yv, ticktext=yt,
                  showticklabels=True, tickangle=-45, mirror="ticks", showgrid=True)
    key = "" if i == 1 else str(i)
    layout_axes["xaxis" + key] = xa
    layout_axes["yaxis" + key] = ya


def ann(text, x, y, size, angle=0, xanchor="center", yanchor="middle", align="center"):
    return dict(text=text, x=x / W, y=1 - y / H, xref="paper", yref="paper", showarrow=False,
                xanchor=xanchor, yanchor=yanchor, textangle=angle, align=align,
                font=dict(family=FONT, size=size, color="#1a1a1a"))


annotations = [
    ann("Prior Sample", 287, 18, 15),
    ann("Posterior Sample", 868, 18, 15),
    ann("k", 72, 173, 20, -90),
    ann("Sigma", 37, 358, 23, -90),
    ann("k", 174, 512, 18),
    ann("Sigma", 360, 505, 18),
    ann("k", 677, 173, 20, -90),
    ann("Sigma", 640, 358, 23, -90),
    ann("k", 777, 512, 18),
    ann("Sigma", 962, 505, 18),
    ann(CAPTION_A, 3, 543, 28, xanchor="left"),
    ann(CAPTION_B, 606, 560, 28, xanchor="left", align="left"),
]

fig.update_layout(width=W, height=H, margin=dict(l=0, r=0, t=0, b=0), autosize=False,
                  paper_bgcolor="white", plot_bgcolor="white", showlegend=False,
                  bargap=0, annotations=annotations, **layout_axes)

fig.write_html("out.html")
